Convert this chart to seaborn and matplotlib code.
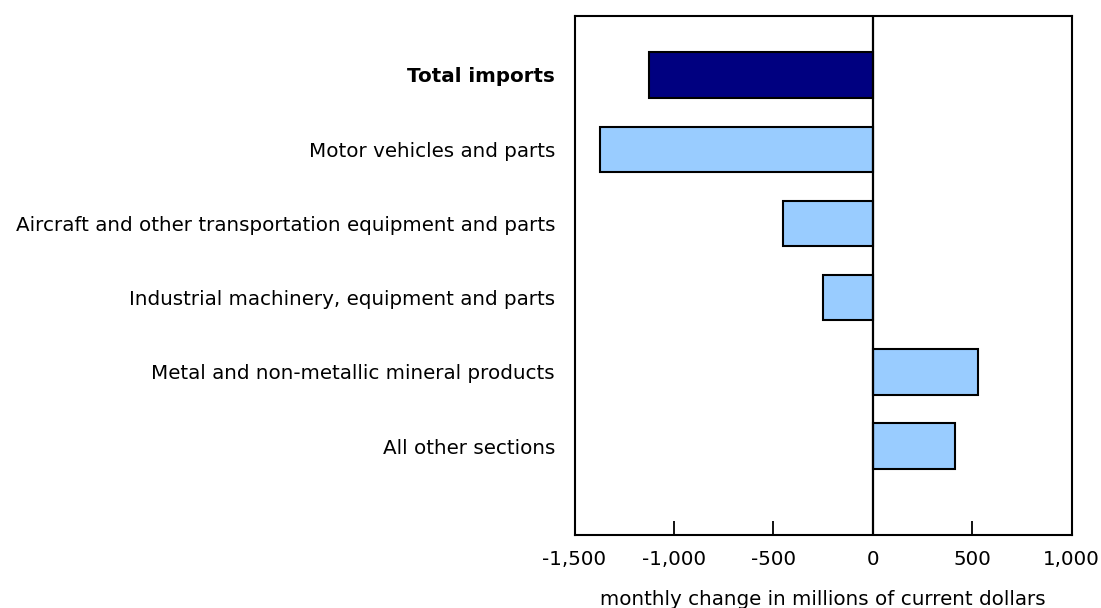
import matplotlib
matplotlib.use("Agg")
import matplotlib.pyplot as plt
import seaborn as sns
import pandas as pd

categories = [
    "Total imports",
    "Motor vehicles and parts",
    "Aircraft and other transportation equipment and parts",
    "Industrial machinery, equipment and parts",
    "Metal and non-metallic mineral products",
    "All other sections",
]
values = [-1125, -1370, -453, -250, 530, 416]
kinds = ["total", "section", "section", "section", "section", "section"]
palette = {"total": "#000080", "section": "#99CCFF"}
xticks = [-1500, -1000, -500, 0, 500, 1000]
xtick_labels = ["-1,500", "-1,000", "-500", "0", "500", "1,000"]
xlabel = "monthly change in millions of current dollars"

df = pd.DataFrame({"category": categories, "value": values, "kind": kinds})

sns.set_style("white")
plt.rcParams["font.family"] = ["DejaVu Sans"]
plt.rcParams["text.color"] = "black"
plt.rcParams["xtick.color"] = "black"
plt.rcParams["ytick.color"] = "black"
plt.rcParams["axes.labelcolor"] = "black"

FS = 14.3

fig = plt.figure(figsize=(11.01, 6.08), dpi=100)
ax = fig.add_axes([574.5 / 1101, 1 - 534.5 / 608, (1071.5 - 574.5) / 1101, (534.5 - 15.5) / 608])

sns.barplot(data=df, x="value", y="category", hue="kind", palette=palette,
            orient="h", width=0.61, dodge=False, legend=False, saturation=1,
            edgecolor="black", linewidth=1.5, ax=ax, zorder=3)

ax.set_xlim(-1500, 1000)
ax.set_ylim(6.19, -0.80)
ax.axvline(0, color="black", linewidth=1.6, zorder=4)

ax.set_xticks(xticks)
ax.set_xticklabels(xtick_labels, fontsize=FS, family="DejaVu Sans")
ax.tick_params(axis="x", direction="in", length=10, width=1.3, color="black",
               bottom=True, top=False, pad=11.5)
ax.tick_params(axis="y", length=0, pad=14)
for lbl in ax.get_yticklabels():
    lbl.set_fontsize(FS)
    lbl.set_family("DejaVu Sans")
    lbl.set_color("black")
    if lbl.get_text() == "Total imports":
        lbl.set_fontweight("bold")

ax.set_ylabel("")
ax.set_xlabel(xlabel, fontsize=FS, family="DejaVu Sans")
ax.xaxis.set_label_coords(0.5, -0.106)

for s in ax.spines.values():
    s.set_visible(True)
    s.set_color("black")
    s.set_linewidth(1.5)
ax.grid(False)

fig.savefig("out.png", dpi=100)
